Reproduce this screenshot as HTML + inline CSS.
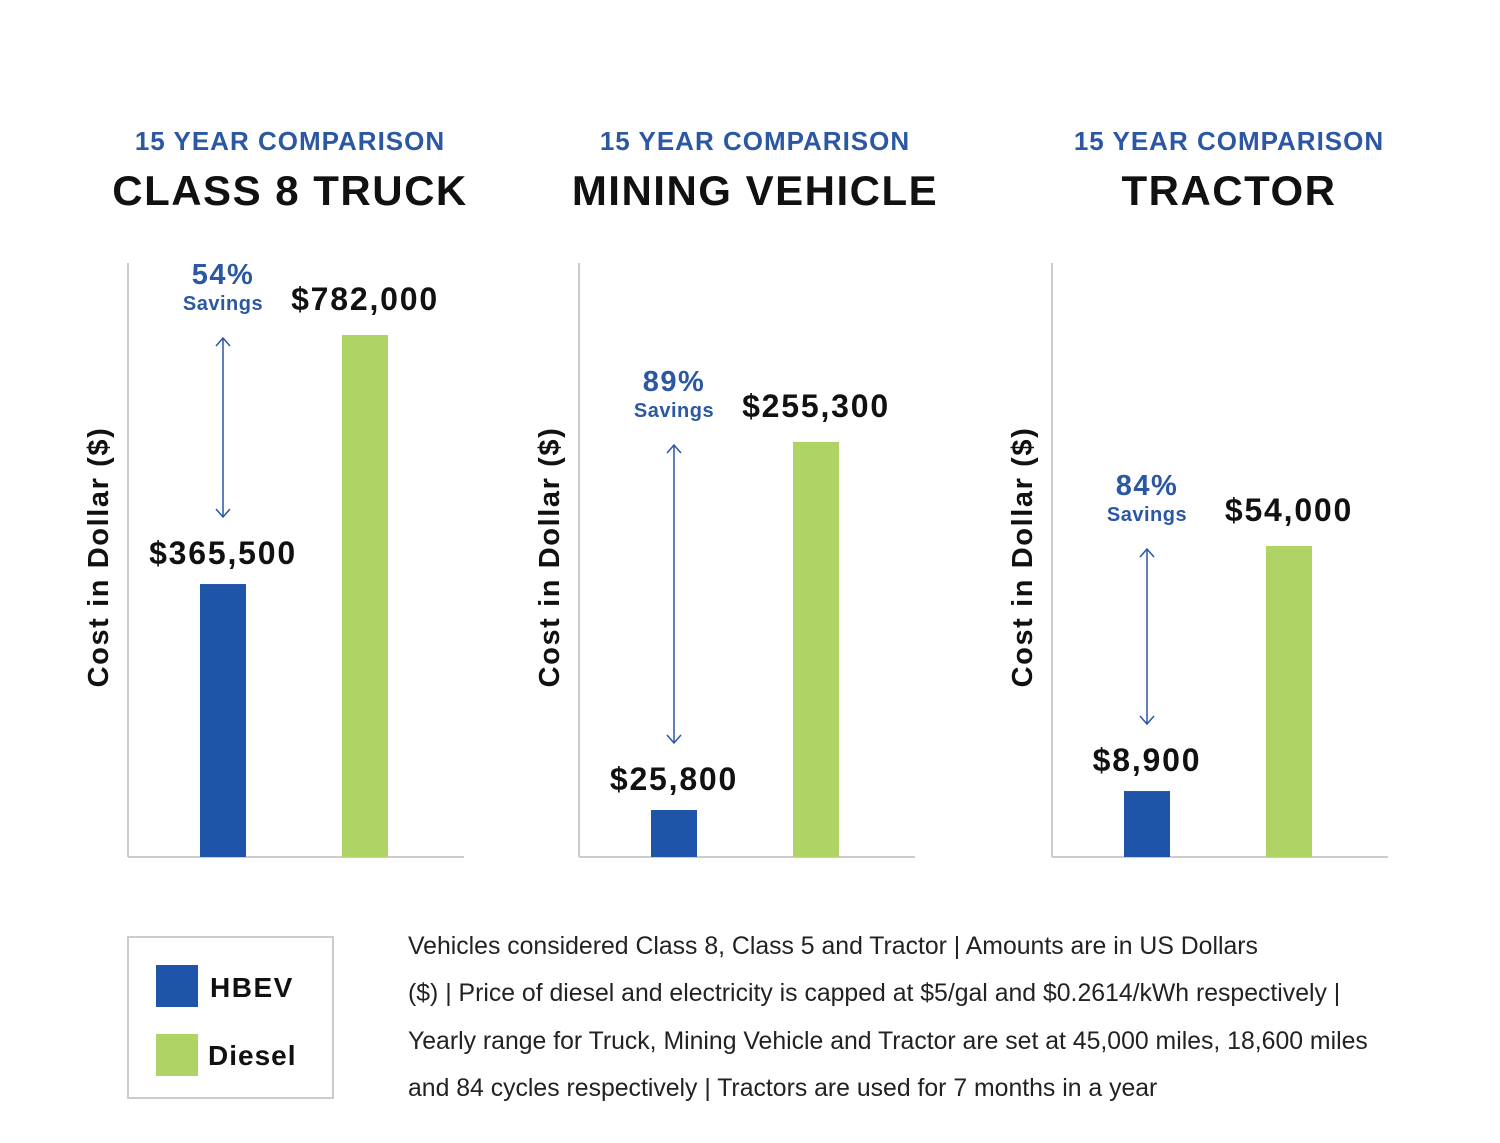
<!DOCTYPE html>
<html><head><meta charset="utf-8"><style>
body{margin:0;background:#fff;width:1500px;height:1143px;overflow:hidden;font-family:"Liberation Sans",sans-serif}
svg{display:block}
.foot{position:absolute;left:408px;top:923px;font-size:24.8px;line-height:47.3px;color:#222;width:1080px}
</style></head><body>
<svg id="chart" width="1500" height="1143" xmlns="http://www.w3.org/2000/svg" style="position:absolute;left:0;top:0"></svg>
<div class="foot">Vehicles considered Class 8, Class 5 and Tractor | Amounts are in US Dollars<br>($) | Price of diesel and electricity is capped at $5/gal and $0.2614/kWh respectively |<br>Yearly range for Truck, Mining Vehicle and Tractor are set at 45,000 miles, 18,600 miles<br>and 84 cycles respectively | Tractors are used for 7 months in a year</div>
<script>
const categories = ["CLASS 8 TRUCK", "MINING VEHICLE", "TRACTOR"];
const hbevValues = [365500, 25800, 8900];
const dieselValues = [782000, 255300, 54000];
const hbevLabels = ["$365,500", "$25,800", "$8,900"];
const dieselLabels = ["$782,000", "$255,300", "$54,000"];
const savingsLabels = ["54%", "89%", "84%"];
const domainMin = [-91000, -3500, -3240];
const dieselHeights = [522, 415, 311];

const svg = document.getElementById('chart');
const NS = 'http://www.w3.org/2000/svg';
function mk(tag, attrs, parent){const e=document.createElementNS(NS,tag);for(const k in attrs)e.setAttribute(k,attrs[k]);(parent||svg).appendChild(e);return e;}
const BLUE='#1f55a8', GREEN='#afd465', TBLUE='#2b57a3';
const axisX=[128,579,1052], baseY=857;
categories.forEach((cat,i)=>{
  const ax=axisX[i];
  const g=mk('g',{});
  
  
  const cx=ax+(i==0?162:i==1?176:177);
  let t=mk('text',{x:cx,y:150,'text-anchor':'middle','font-size':26,'font-weight':'bold',fill:TBLUE,'letter-spacing':'1'},g);t.textContent='15 YEAR COMPARISON';
  
  
  t=mk('text',{x:cx,y:205,'text-anchor':'middle','font-size':42,'font-weight':'bold',fill:'#111','letter-spacing':'1.5'},g);t.textContent=cat;
  
  
  t=mk('text',{x:0,y:0,transform:`translate(${ax-20},557) rotate(-90)`,'text-anchor':'middle','font-size':29,'font-weight':'bold',fill:'#111','letter-spacing':'1.6'},g);t.textContent='Cost in Dollar ($)';
  
  
  let l=mk('line',{x1:ax,y1:263,x2:ax,y2:baseY,stroke:'#ccc','stroke-width':2},g);
  
  
  l=mk('line',{x1:ax,y1:baseY,x2:ax+336,y2:baseY,stroke:'#ccc','stroke-width':2},g);
  
  
  const scale=dieselHeights[i]/(dieselValues[i]-domainMin[i]);
  const y=v=>baseY-(v-domainMin[i])*scale;
  const bx=ax+72, gx=ax+214, bw=46;
  const hb=mk('rect',{x:bx,y:y(hbevValues[i]),width:bw,height:baseY-y(hbevValues[i]),fill:BLUE},g);
  
  
  const dg=mk('rect',{x:gx,y:y(dieselValues[i]),width:bw,height:baseY-y(dieselValues[i]),fill:GREEN},g);
  
  
  const bcx=bx+bw/2, gcx=gx+bw/2;
  const hy=y(hbevValues[i]), dy=y(dieselValues[i]);
  t=mk('text',{x:bcx,y:hy-20,'text-anchor':'middle','font-size':32,'font-weight':'bold',fill:'#111','letter-spacing':'1.8'},g);t.textContent=hbevLabels[i];
  
  
  t=mk('text',{x:gcx,y:dy-25,'text-anchor':'middle','font-size':32,'font-weight':'bold',fill:'#111','letter-spacing':'1.8'},g);t.textContent=dieselLabels[i];
  
  
  t=mk('text',{x:bcx,y:dy-51,'text-anchor':'middle','font-size':29,'font-weight':'bold',fill:TBLUE,'letter-spacing':'1.5'},g);t.textContent=savingsLabels[i];
  
  
  t=mk('text',{x:bcx,y:dy-25,'text-anchor':'middle','font-size':20,'font-weight':'bold',fill:TBLUE,'letter-spacing':'0.5'},g);t.textContent='Savings';
  
  
  const a1=dy+3, a2=hy-67;
  const p=mk('path',{d:`M${bcx},${a1} L${bcx},${a2} M${bcx-7},${a1+8} L${bcx},${a1} L${bcx+7},${a1+8} M${bcx-7},${a2-8} L${bcx},${a2} L${bcx+7},${a2-8}`,stroke:TBLUE,'stroke-width':1.5,fill:'none'},g);
  
  
});
const lg=mk('g',{});


mk('rect',{x:128,y:937,width:205,height:161,fill:'#fff',stroke:'#ccc','stroke-width':2},lg);
const e1=mk('rect',{x:156,y:965,width:42,height:42,fill:BLUE},lg);


const e2=mk('rect',{x:156,y:1034,width:42,height:42,fill:GREEN},lg);


let lt=mk('text',{x:210,y:997,'font-size':28,'font-weight':'bold',fill:'#111','letter-spacing':'1.5'},lg);lt.textContent='HBEV';


lt=mk('text',{x:208,y:1065,'font-size':28,'font-weight':'bold',fill:'#111','letter-spacing':'1'},lg);lt.textContent='Diesel';


</script>
</body></html>
